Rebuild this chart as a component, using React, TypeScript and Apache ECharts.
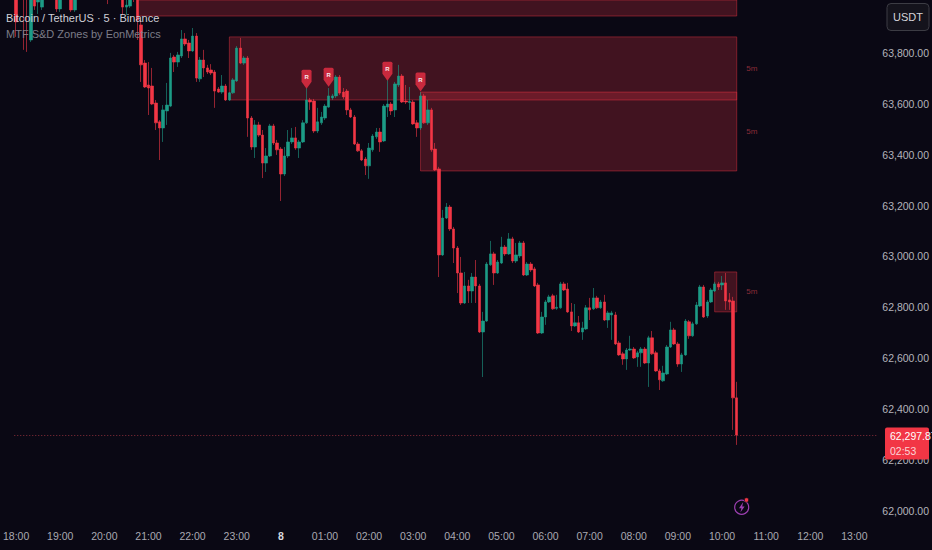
import React, { useEffect, useRef } from "react";
import * as echarts from "echarts";

const FONT = "'Liberation Sans Narrow', 'Liberation Sans', sans-serif";
const BG = "#0a0814";
const UP = "#1c9c86";
const DOWN = "#f23645";

const symbolTitle = "Bitcoin / TetherUS · 5 · Binance";
const indicatorTitle = "MTF S&D Zones by EonMetrics";
const priceTicks = [62000, 62200, 62400, 62600, 62800, 63000, 63200, 63400, 63600, 63800];
const lastPrice = 62297.87;
const lastPriceText = "62,297.87";
const countdownText = "02:53";
const currency = "USDT";
const barCount = 235;

const opens = [
  64047,64126,64165,64126,63851,64087,64000,63980,64205,64126,
  64283,64126,63973,64205,64067,64165,63969,64244,64106,64283,
  64165,64087,64165,64263,64126,64185,64067,64165,64087,64067,
  63980,63984,64165,64106,63910,63760,63674,63670,63603,63529,
  63505,63572,63591,63784,63764,63788,63855,63839,63808,63866,
  63698,63772,63741,63733,63725,63658,63646,63670,63615,63643,
  63690,63819,63760,63780,63544,63430,63517,63477,63367,63395,
  63513,63446,63422,63324,63395,63450,63466,63426,63450,63525,
  63615,63611,63493,63525,63544,63587,63623,63631,63705,63646,
  63650,63576,63548,63442,63415,63383,63356,63419,63470,63489,
  63454,63587,63599,63576,63674,63709,63611,63605,63607,63525,
  63505,63631,63525,63576,63422,63344,63006,63151,63194,63108,
  63033,62935,62817,62884,62864,62919,62884,62703,62746,62967,
  63010,62935,62974,63037,63010,63069,62982,63002,63053,62927,
  62970,62951,62888,62699,62762,62821,62845,62796,62798,62892,
  62872,62782,62727,62739,62703,62715,62798,62794,62837,62798,
  62821,62750,62770,62770,62660,62617,62597,62632,62636,62605,
  62621,62636,62581,62680,62621,62550,62511,62538,62644,62711,
  62656,62577,62613,62743,62688,62735,62805,62880,62766,62821,
  62864,62892,62888,62896,62829,62825,62444,
];
const closes = [
  63922,64244,64028,64020,64020,63984,64126,64047,64047,64244,
  64087,63973,64087,64047,64205,63969,64047,64087,64224,64146,
  64087,64205,64263,64146,64205,64067,64165,64087,64185,63980,
  63988,64087,64028,63929,63753,63666,63662,63599,63525,63505,
  63576,63595,63780,63764,63792,63855,63835,63808,63866,63701,
  63772,63741,63725,63721,63650,63646,63670,63615,63643,63694,
  63819,63760,63780,63544,63430,63517,63477,63367,63395,63513,
  63446,63419,63324,63395,63450,63466,63426,63450,63525,63615,
  63607,63493,63529,63548,63591,63631,63631,63705,63642,63627,
  63576,63548,63442,63415,63379,63356,63426,63473,63489,63450,
  63591,63599,63572,63678,63709,63607,63607,63609,63521,63505,
  63631,63525,63576,63419,63340,63006,63151,63194,63108,63033,
  62935,62817,62884,62864,62919,62884,62703,62746,62970,63010,
  62935,62978,63037,63010,63069,62982,63006,63053,62927,62970,
  62947,62884,62699,62762,62821,62841,62794,62800,62892,62868,
  62782,62727,62739,62703,62719,62798,62790,62837,62798,62821,
  62750,62778,62778,62656,62613,62597,62632,62636,62601,62621,
  62636,62581,62680,62617,62550,62515,62542,62644,62711,62656,
  62577,62613,62746,62688,62735,62809,62880,62762,62821,62868,
  62892,62880,62896,62825,62821,62444,lastPrice,
];
const highs = [
  64106,64283,64205,64146,64067,64126,64146,64087,64224,64263,
  64303,64146,64126,64224,64244,64185,64087,64263,64244,64303,
  64185,64224,64283,64283,64244,64205,64185,64185,64205,64087,
  64028,64106,64185,64126,63929,63772,63764,63741,63615,63536,
  63595,63682,63800,63792,63804,63890,63878,63851,63898,63878,
  63784,63812,63753,63756,63733,63666,63713,63678,63646,63701,
  63827,63859,63788,63788,63552,63536,63529,63497,63426,63521,
  63521,63458,63430,63430,63497,63505,63509,63458,63536,63662,
  63623,63619,63584,63568,63599,63662,63639,63713,63713,63662,
  63658,63584,63556,63450,63422,63391,63446,63481,63505,63505,
  63599,63694,63607,63686,63753,63717,63674,63666,63615,63536,
  63646,63639,63615,63584,63446,63352,63183,63210,63202,63116,
  63041,62998,62939,62908,62935,62986,62892,62782,62978,63061,
  63018,62986,63077,63045,63092,63077,63053,63061,63061,62978,
  62978,62959,62896,62782,62829,62849,62853,62849,62900,62900,
  62896,62817,62813,62766,62743,62809,62837,62876,62845,62829,
  62849,62786,62786,62782,62668,62625,62640,62688,62644,62629,
  62644,62644,62688,62707,62629,62558,62570,62652,62743,62719,
  62664,62621,62754,62750,62743,62821,62888,62888,62829,62876,
  62900,62900,62923,62935,62856,62841,62507,
];
const lows = [
  63863,64047,63812,63804,63843,63969,63953,63969,64028,64106,
  64055,63961,63961,64028,64047,63961,63961,64067,64087,64126,
  64055,64067,64146,64126,64106,63992,64047,64067,64055,63949,
  63949,63977,64000,63851,63686,63662,63556,63595,63497,63379,
  63450,63517,63587,63725,63745,63780,63827,63780,63804,63686,
  63686,63705,63717,63713,63584,63643,63639,63611,63611,63639,
  63686,63756,63753,63470,63419,63387,63470,63308,63332,63391,
  63438,63399,63218,63316,63387,63442,63419,63387,63446,63521,
  63576,63485,63485,63517,63536,63584,63615,63623,63635,63619,
  63556,63544,63438,63411,63375,63320,63305,63411,63462,63411,
  63450,63548,63556,63548,63666,63603,63599,63576,63517,63470,
  63497,63521,63517,63411,63336,62919,63002,63147,63100,62974,
  62856,62809,62813,62817,62817,62817,62699,62526,62743,62963,
  62888,62931,62970,63002,63006,62974,62974,62994,62923,62923,
  62939,62880,62695,62695,62731,62817,62790,62790,62794,62864,
  62778,62707,62723,62699,62672,62711,62750,62790,62794,62794,
  62746,62719,62672,62652,62609,62574,62554,62629,62597,62566,
  62566,62577,62487,62613,62546,62475,62507,62534,62640,62652,
  62566,62546,62609,62676,62684,62731,62801,62758,62758,62817,
  62860,62868,62868,62790,62790,62318,62259,
];

// Supply zones: first bar, last bar, upper price, lower price
const zoneStartBar = [33, 58, 110, 190];
const zoneEndBar = [196, 196, 196, 196];
const zoneTop = [64100, 63863, 63646, 62939];
const zoneBottom = [63945, 63615, 63336, 62782];
const zoneLabel = ["", "5m", "5m", "5m"];

// "R" pins: bar and price of the pin's centre
const pinBar = [79, 85, 101, 110];
const pinPrice = [63696, 63704, 63728, 63686];
const pinText = "R";

function makeTimes(): string[] {
  const out: string[] = [];
  for (let k = 0; k < barCount; k++) {
    const mins = (18 * 60 + k * 5) % (24 * 60);
    const h = Math.floor(mins / 60);
    const m = mins % 60;
    out.push(String(h).padStart(2, "0") + ":" + String(m).padStart(2, "0"));
  }
  return out;
}
const times = makeTimes();
const dayLabel = "8";

const PIN_PATH = "path://M1.5,0 H8.5 Q10,0 10,1.5 V12 L5,19 L0,12 V1.5 Q0,0 1.5,0 Z";

export default function App() {
  const ref = useRef<HTMLDivElement>(null);
  useEffect(() => {
    document.body.style.margin = "0";
    document.body.style.background = BG;
    const chart = echarts.init(ref.current!, undefined, { renderer: "svg" });
    const candles = opens.map((o, k) => [o, closes[k], lows[k], highs[k]]);
    chart.setOption({
      animation: false,
      backgroundColor: BG,
      grid: { left: 1, width: 885, top: 0, bottom: 29, containLabel: false },
      xAxis: {
        type: "category",
        data: times,
        boundaryGap: true,
        axisLine: { show: false },
        axisTick: { show: false },
        splitLine: { show: false },
        axisLabel: {
          interval: (k: number) => k % 12 === 0,
          formatter: (v: string) => (v === "00:00" ? "{d|" + dayLabel + "}" : v),
          color: "#a9a9b2",
          fontFamily: FONT,
          fontSize: 10.5,
          margin: 9,
          hideOverlap: false,
          rich: { d: { color: "#d8d8de", fontFamily: FONT, fontSize: 10.5, fontWeight: "bold" } },
        },
      },
      yAxis: {
        type: "value",
        position: "right",
        min: 61960,
        max: 64008,
        axisLine: { show: false },
        axisTick: { show: false },
        splitLine: { show: false },
        axisLabel: {
          customValues: priceTicks,
          showMinLabel: true,
          showMaxLabel: true,
          formatter: (v: number) =>
            v.toLocaleString("en-US", { minimumFractionDigits: 2, maximumFractionDigits: 2 }),
          color: "#b4b4bc",
          fontFamily: FONT,
          fontSize: 10.5,
          margin: 4,
        },
      },
      series: [
        {
          type: "candlestick",
          data: candles,
          barWidth: 3,
          clip: true,
          itemStyle: {
            color: UP,
            color0: DOWN,
            borderColor: UP,
            borderColor0: DOWN,
            borderWidth: 0.6,
          },
          markArea: {
            silent: true,
            itemStyle: {
              color: "rgba(242,54,69,0.24)",
              borderColor: "rgba(242,54,69,0.42)",
              borderWidth: 1,
            },
            label: {
              show: true,
              position: "right",
              distance: 9,
              color: "#8a2c38",
              fontFamily: FONT,
              fontSize: 8,
            },
            data: zoneStartBar.map((s, k) => [
              { name: zoneLabel[k], coord: [times[s], zoneTop[k]] },
              { coord: [times[zoneEndBar[k]], zoneBottom[k]] },
            ]),
          },
          markLine: {
            silent: true,
            symbol: "none",
            label: { show: false },
            lineStyle: { color: "#8a2c38", type: [1, 2], width: 1 },
            data: [{ yAxis: lastPrice }],
          },
          markPoint: {
            silent: true,
            symbol: PIN_PATH,
            symbolSize: [10, 19],
            symbolKeepAspect: false,
            itemStyle: { color: "#c9293d" },
            label: {
              show: true,
              formatter: pinText,
              color: "#f6e8ea",
              fontFamily: FONT,
              fontSize: 6,
              fontWeight: "bold",
              position: "inside",
              offset: [0, -2],
            },
            data: pinBar.map((b, k) => ({ coord: [times[b], pinPrice[k]] })),
          },
        },
      ],
      graphic: [
        {
          type: "text", left: 6, top: 12, z: 20,
          style: { text: symbolTitle, fill: "#cfcfd6", font: "11px " + FONT },
        },
        {
          type: "text", left: 6, top: 28, z: 20,
          style: { text: indicatorTitle, fill: "#7d7d88", font: "11px " + FONT },
        },
        {
          type: "rect", z: 20,
          shape: { x: 887, y: 3.5, width: 42, height: 27, r: 4 },
          style: { fill: "#14131c", stroke: "#3c3c44", lineWidth: 1 },
        },
        {
          type: "text", left: 893, top: 11, z: 21,
          style: { text: currency, fill: "#d4d4da", font: "11px " + FONT },
        },
        {
          type: "rect", z: 20,
          shape: { x: 885, y: 427.5, width: 44, height: 32, r: 2 },
          style: { fill: DOWN },
        },
        {
          type: "text", left: 890, top: 430, z: 21,
          style: { text: lastPriceText, fill: "#ffffff", font: "10.5px " + FONT },
        },
        {
          type: "text", left: 890, top: 445, z: 21,
          style: { text: countdownText, fill: "#fbd5d8", font: "10.5px " + FONT },
        },
        {
          type: "circle", z: 20,
          shape: { cx: 741.7, cy: 507.3, r: 7 },
          style: { fill: "none", stroke: "#9c3fb0", lineWidth: 1.2 },
        },
        {
          type: "polygon", z: 21,
          shape: {
            points: [[743.2, 502], [739, 508.2], [741.4, 508.2], [740.4, 512.6], [744.6, 506.4], [742.2, 506.4]],
          },
          style: { fill: "#9c3fb0" },
        },
        {
          type: "circle", z: 22,
          shape: { cx: 746.5, cy: 500, r: 2.2 },
          style: { fill: DOWN, stroke: BG, lineWidth: 0.6 },
        },
      ],
    });
    return () => chart.dispose();
  }, []);
  return <div ref={ref} style={{ width: 932, height: 550 }} />;
}
